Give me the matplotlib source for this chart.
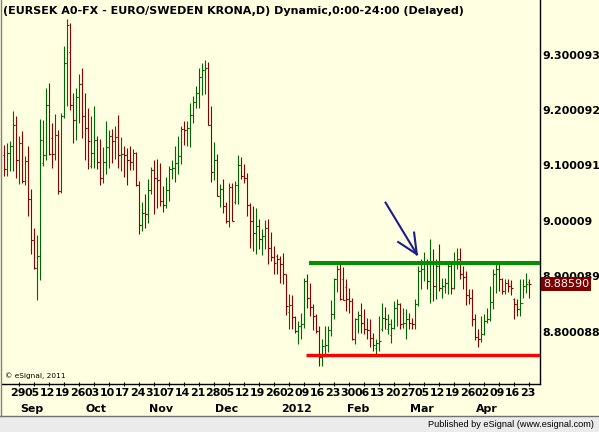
import numpy as np
import pandas as pd
import matplotlib
matplotlib.use("Agg")
import matplotlib.pyplot as plt
from matplotlib.patches import Rectangle
from matplotlib.lines import Line2D

# daily EUR/SEK bars, 25 Aug 2011 - 26 Apr 2012
dates = pd.bdate_range("2011-08-25", periods=176)

opens = [
    9.1199, 9.0929, 9.1229, 9.1344, 9.1740, 9.1109, 9.1410, 9.0719, 9.1079, 9.0401,
    8.9650, 8.9157, 8.9368, 9.1049, 9.1199, 9.2100, 9.1500, 9.1217, 9.1560, 9.0539,
    9.1890, 9.2851, 9.3049, 9.2100, 9.1830, 9.2238, 9.2479, 9.1902, 9.1680, 9.1000,
    9.1229, 9.1470, 9.1067, 9.0779, 9.1067, 9.1337, 9.1536, 9.1434, 9.1524, 9.1187,
    9.1211, 9.1193, 9.1103, 9.1073, 9.1229, 9.0647, 8.9920, 9.0136, 9.0118, 9.0551,
    9.0911, 9.0779, 9.0731, 9.0352, 9.0280, 9.0563, 9.0929, 9.0959, 9.1049, 9.1175,
    9.1668, 9.1650, 9.1680, 9.1920, 9.2148, 9.2310, 9.2599, 9.2719, 9.2761, 9.1740,
    9.0887, 9.1109, 9.0448, 9.0568, 9.0268, 9.0004, 9.0605, 9.0350, 9.0641, 9.1001,
    9.0809, 9.0779, 9.0280, 8.9998, 8.9788, 8.9908, 8.9668, 8.9728, 8.9878, 8.9505,
    8.9355, 8.9370, 8.9308, 8.9217, 8.9037, 8.8350, 8.8479, 8.8275, 8.8016, 8.8106,
    8.8148, 8.8917, 8.8617, 8.8449, 8.8287, 8.8016, 8.7536, 8.7746, 8.7764, 8.8028,
    8.8329, 8.8947, 8.9139, 8.8947, 8.8800, 8.8587, 8.8557, 8.7866, 8.8239, 8.8299,
    8.8166, 8.8046, 8.8034, 8.7896, 8.7700, 8.7800, 8.8050, 8.8256, 8.8050, 8.7950,
    8.8076, 8.8436, 8.8496, 8.8136, 8.8166, 8.8226, 8.8166, 8.8136, 8.8496, 8.9097,
    8.9127, 8.9247, 8.8917, 8.9247, 8.8827, 8.9187, 8.8797, 8.8827, 8.8887, 8.9187,
    8.8785, 8.9277, 8.9319, 8.9037, 8.8995, 8.8659, 8.8617, 8.8238, 8.7914, 8.7866,
    8.7968, 8.8196, 8.8226, 8.8538, 8.9037, 8.9127, 8.8947, 8.8737, 8.8887, 8.8827,
    8.8600, 8.8496, 8.8406, 8.8526, 8.8827, 8.8900,
]
highs = [
    9.1362, 9.1410, 9.1440, 9.1980, 9.1890, 9.1542, 9.1620, 9.1169, 9.1350, 9.0581,
    8.9878, 8.9740, 9.1848, 9.1830, 9.2401, 9.2491, 9.1770, 9.1932, 9.1650, 9.1950,
    9.3151, 9.3644, 9.3572, 9.2310, 9.2401, 9.2659, 9.2761, 9.2310, 9.2040, 9.1890,
    9.2070, 9.1542, 9.1482, 9.1337, 9.1812, 9.1650, 9.1668, 9.1710, 9.1920, 9.1524,
    9.1361, 9.1319, 9.1361, 9.1301, 9.1241, 9.0719, 9.0340, 9.0479, 9.0749, 9.0977,
    9.1109, 9.1127, 9.1037, 9.0629, 9.0797, 9.0989, 9.1109, 9.1361, 9.1542, 9.1710,
    9.1812, 9.1800, 9.2130, 9.2250, 9.2430, 9.2761, 9.2851, 9.2911, 9.2875, 9.2070,
    9.1427, 9.1211, 9.0665, 9.0749, 9.0340, 9.0677, 9.0677, 9.0719, 9.1193, 9.1151,
    9.1031, 9.0869, 9.0328, 9.0268, 9.0226, 9.0028, 8.9860, 9.0010, 9.0028, 8.9800,
    8.9547, 8.9398, 8.9368, 8.9416, 8.9037, 8.8677, 8.8659, 8.8287, 8.8196, 8.8347,
    8.8965, 8.9049, 8.8887, 8.8497, 8.8317, 8.8106, 8.7866, 8.8106, 8.8106, 8.8569,
    8.8965, 8.9199, 8.9247, 8.9175, 8.8959, 8.8797, 8.8605, 8.8257, 8.8377, 8.8515,
    8.8406, 8.8256, 8.8226, 8.7986, 8.7866, 8.8286, 8.8526, 8.8454, 8.8316, 8.8226,
    8.8557, 8.8587, 8.8520, 8.8436, 8.8406, 8.8346, 8.8256, 8.8587, 8.9187, 8.9307,
    8.9439, 8.9319, 8.9680, 8.9487, 8.9307, 8.9578, 8.8977, 8.8977, 8.9277, 8.9259,
    8.9439, 8.9517, 8.9517, 8.9187, 8.9097, 8.8767, 8.8779, 8.8316, 8.8046, 8.8286,
    8.8316, 8.8436, 8.8827, 8.9127, 8.9277, 8.9217, 8.8977, 8.8947, 8.8947, 8.8935,
    8.8617, 8.8587, 8.8947, 8.8947, 8.9067, 8.8947,
]
lows = [
    9.0809, 9.0809, 9.0899, 9.0899, 9.0779, 9.0659, 9.0689, 9.0641, 9.0088, 8.9398,
    8.9127, 8.8575, 8.8935, 9.0989, 9.1109, 9.1199, 9.0959, 9.1109, 9.0479, 9.0509,
    9.1860, 9.2070, 9.2010, 9.1410, 9.1458, 9.1770, 9.1500, 9.1109, 9.0929, 9.0959,
    9.0959, 9.0929, 9.0641, 9.0677, 9.0839, 9.0959, 9.1049, 9.1127, 9.0959, 9.0899,
    9.0797, 9.0641, 9.0917, 9.0917, 9.0629, 8.9758, 8.9818, 8.9878, 8.9956, 9.0485,
    9.0118, 9.0238, 9.0268, 9.0160, 9.0238, 9.0358, 9.0749, 9.0701, 9.0839, 9.1019,
    9.1367, 9.1349, 9.1331, 9.1770, 9.2040, 9.2040, 9.2268, 9.2292, 9.1740, 9.0701,
    9.0731, 9.0448, 9.0256, 9.0148, 8.9968, 8.9896, 8.9998, 9.0304, 9.0304, 9.0749,
    9.0689, 9.0088, 8.9517, 8.9457, 8.9409, 8.9487, 8.9385, 8.9487, 8.9229, 8.9271,
    8.9049, 8.9037, 8.8887, 8.8857, 8.8299, 8.8046, 8.8046, 8.7986, 8.7776, 8.7878,
    8.8076, 8.8437, 8.8287, 8.8034, 8.7986, 8.7386, 8.7386, 8.7596, 8.7626, 8.7926,
    8.8226, 8.8719, 8.8575, 8.8575, 8.8377, 8.8347, 8.7848, 8.7776, 8.7986, 8.7986,
    8.7956, 8.7866, 8.7716, 8.7656, 8.7596, 8.7656, 8.8016, 8.8046, 8.7956, 8.7806,
    8.8046, 8.8106, 8.8046, 8.8076, 8.7866, 8.8046, 8.8046, 8.8046, 8.8466, 8.8767,
    8.8917, 8.8767, 8.8526, 8.8557, 8.8587, 8.8737, 8.8617, 8.8707, 8.8677, 8.8677,
    8.8767, 8.9127, 8.8947, 8.8767, 8.8478, 8.8496, 8.8106, 8.7854, 8.7716, 8.7818,
    8.7950, 8.8166, 8.8196, 8.8406, 8.8695, 8.8737, 8.8677, 8.8677, 8.8719, 8.8659,
    8.8238, 8.8286, 8.8286, 8.8617, 8.8707, 8.8611,
]
closes = [
    9.0929, 9.1229, 9.1344, 9.1740, 9.1109, 9.1410, 9.0719, 9.1079, 9.0401, 8.9650,
    8.9157, 8.9368, 9.1470, 9.1199, 9.2100, 9.1211, 9.1217, 9.1560, 9.0539, 9.1890,
    9.2851, 9.3542, 9.2100, 9.1830, 9.2238, 9.2479, 9.1902, 9.1680, 9.1452, 9.1229,
    9.1470, 9.1067, 9.0779, 9.1067, 9.1337, 9.1536, 9.1434, 9.1524, 9.1187, 9.1211,
    9.1193, 9.1103, 9.1073, 9.1229, 9.0647, 8.9920, 9.0136, 9.0118, 9.0551, 9.0911,
    9.0779, 9.0731, 9.0352, 9.0280, 9.0563, 9.0929, 9.0959, 9.1049, 9.1175, 9.1668,
    9.1650, 9.1680, 9.1920, 9.2148, 9.2310, 9.2599, 9.2719, 9.2761, 9.1740, 9.0887,
    9.1109, 9.0448, 9.0568, 9.0268, 9.0004, 9.0605, 8.9998, 9.0641, 9.1001, 9.0809,
    9.0779, 9.0280, 8.9998, 8.9788, 8.9908, 8.9668, 8.9728, 8.9878, 8.9505, 8.9355,
    8.9247, 8.9308, 8.9217, 8.9037, 8.8467, 8.8479, 8.8275, 8.8016, 8.8106, 8.8148,
    8.8917, 8.8617, 8.8449, 8.8287, 8.8016, 8.7536, 8.7746, 8.7764, 8.8028, 8.8329,
    8.8947, 8.9139, 8.8587, 8.8575, 8.8587, 8.8557, 8.7866, 8.8239, 8.8299, 8.8166,
    8.8046, 8.8034, 8.7896, 8.7760, 8.7800, 8.7836, 8.8256, 8.8226, 8.8136, 8.8076,
    8.8436, 8.8496, 8.8136, 8.8166, 8.8226, 8.8166, 8.8136, 8.8496, 8.9097, 8.9127,
    8.9247, 8.8917, 8.9247, 8.8827, 8.9187, 8.8797, 8.8827, 8.8887, 8.9187, 8.8785,
    8.9277, 8.9319, 8.9037, 8.8995, 8.8659, 8.8617, 8.8238, 8.7914, 8.7866, 8.7968,
    8.8196, 8.8226, 8.8538, 8.9037, 8.9127, 8.8947, 8.8737, 8.8887, 8.8827, 8.8797,
    8.8496, 8.8406, 8.8526, 8.8827, 8.8857, 8.8859,
]

# price scale labels on the right
ytick_values = [8.800088, 8.900089, 9.000090, 9.100091, 9.200092, 9.300093]
ytick_labels = ["8.800088", "8.900089", "9.00009", "9.100091", "9.200092", "9.300093"]

# hand drawn lines: resistance / support levels and the start bar of each
resistance = 8.9241
resistance_start = 101.6
support = 8.7578
support_start = 100.6

# blue arrow (bar index, price)
arrow_tail = (127.1, 9.033)
arrow_tip = (137.5, 8.940)
arrow_head = [(131.3, 8.962), (136.6, 8.979)]

title = "(EURSEK A0-FX - EURO/SWEDEN KRONA,D) Dynamic,0:00-24:00 (Delayed)"

BG = "#FFFFE1"
UP = "#006400"
DOWN = "#8B0000"

W, H = 599, 432
fig = plt.figure(figsize=(W / 100, H / 100), dpi=100, facecolor=BG)
# plot area: x 2..540 px, y 0..384 px (from top)
ax = fig.add_axes([2 / W, (H - 384) / H, 538 / W, 384 / H])
ax.set_facecolor(BG)

o = np.array(opens)
hi = np.array(highs)
lo = np.array(lows)
c = np.array(closes)
idx = np.arange(len(c))
cols = np.where(c >= o, UP, DOWN)

lw = 0.8
ax.vlines(idx, lo, hi, colors=cols, linewidth=lw)
ax.hlines(o, idx - 0.45, idx, colors=cols, linewidth=lw)
ax.hlines(c, idx, idx + 0.45, colors=cols, linewidth=lw)

x_max = 178.57
ax.set_xlim(-0.767, x_max)
ax.set_ylim(8.7057, 9.3988)

ax.hlines(resistance, resistance_start, x_max, colors="#009000", linewidth=2.9, zorder=3)
ax.hlines(support, support_start, x_max, colors="#FF0000", linewidth=2.4, zorder=3)

# arrow
navy = "#1C1C8E"
ax.plot([arrow_tail[0], arrow_tip[0]], [arrow_tail[1], arrow_tip[1]], color=navy, lw=1.5, zorder=4)
for hx, hy in arrow_head:
    ax.plot([hx, arrow_tip[0]], [hy, arrow_tip[1]], color=navy, lw=1.5, zorder=4)

# axes styling
for s in ["left", "top"]:
    ax.spines[s].set_visible(False)
ax.spines["right"].set_linewidth(1.0)
ax.spines["bottom"].set_linewidth(1.0)

ax.yaxis.tick_right()
ax.set_yticks(ytick_values)
ax.set_yticklabels(ytick_labels, fontsize=7.9, fontweight="bold", family="DejaVu Sans")
ax.tick_params(axis="y", length=0, pad=1.5)

mondays = [i for i, d in enumerate(dates) if d.weekday() == 0]
ax.set_xticks([m + 3 for m in mondays])
ax.set_xticklabels([])
ax.tick_params(axis="x", length=3, direction="inout", width=0.8)

# day labels (left-aligned on the Monday bar) and month labels
for m in mondays:
    ax.text(m - 0.15, -0.023, f"{dates[m].day:02d}", transform=ax.get_xaxis_transform(),
            ha="left", va="center", fontsize=7.9, fontweight="bold", clip_on=False)
prev_month = dates[0].month
for i, d in enumerate(dates):
    if d.month != prev_month:
        lab = str(d.year) if d.month == 1 else d.strftime("%b")
        ax.text(i + 0.2, -0.066, lab, transform=ax.get_xaxis_transform(),
                ha="left", va="center", fontsize=7.9, fontweight="bold", clip_on=False)
        prev_month = d.month

# last price tag
ytr = ax.get_yaxis_transform()
tag_h = 13.5 / 554
ax.add_patch(Rectangle((1.0015, c[-1] - tag_h / 2), 0.093, tag_h, transform=ytr,
                       facecolor="#800000", edgecolor="none", clip_on=False, zorder=5))
ax.text(1.048, c[-1], f"{c[-1]:.5f}", transform=ytr, ha="center", va="center",
        color="white", fontsize=8.0, family="DejaVu Sans", zorder=6, clip_on=False)

ax.text(3 / 538, 8 / 384, "\u00a9 eSignal, 2011", transform=ax.transAxes,
        fontsize=5.3, ha="left", va="center")

fig.text(3 / W, 1 - 10.5 / H, title, fontsize=8.0, fontweight="bold", ha="left", va="center")

# frame + footer strip
fig.patches.append(Rectangle((0, 0), 1, 15.5 / H, transform=fig.transFigure,
                             facecolor="#EBEBEB", edgecolor="none"))
fig.lines.append(Line2D([0, 1], [16 / H, 16 / H], transform=fig.transFigure, color="#707070", lw=1.0))
fig.lines.append(Line2D([1 / W, 1 / W], [16 / H, 1], transform=fig.transFigure, color="#808080", lw=1.0))
fig.text(594 / W, 7.5 / H, "Published by eSignal (www.esignal.com)", fontsize=6.6,
         ha="right", va="center", family="Liberation Sans")

fig.savefig("out.png", dpi=100, facecolor=BG)
